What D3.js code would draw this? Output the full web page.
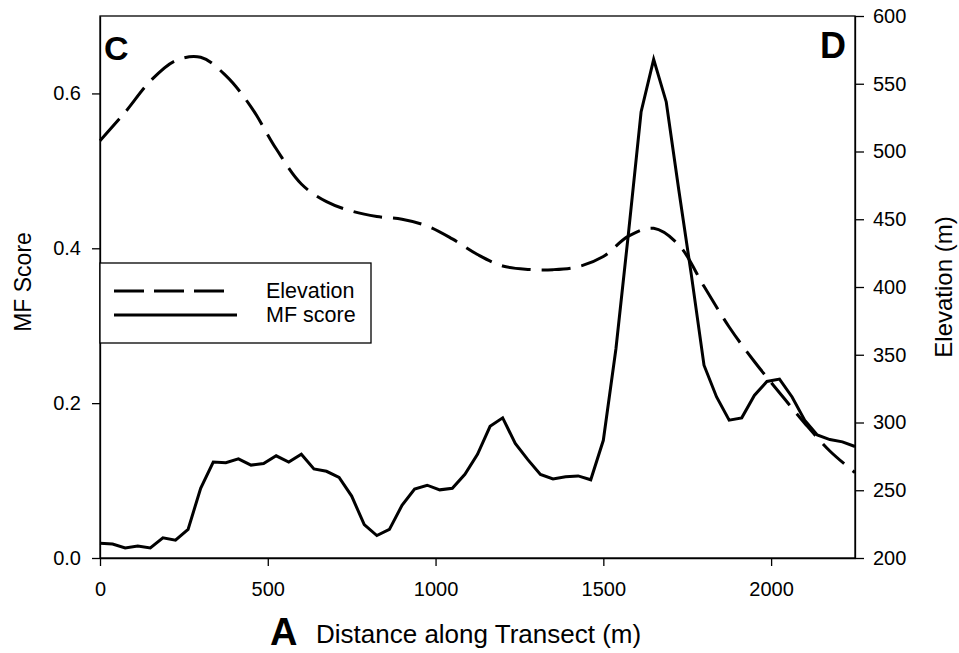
<!DOCTYPE html>
<html>
<head>
<meta charset="utf-8">
<script src="https://cdn.jsdelivr.net/npm/d3@7"></script>
<style>
  html, body { margin: 0; padding: 0; background: #fff; }
  svg { display: block; }
  text { font-family: "Liberation Sans", Arial, sans-serif; fill: #000; }
</style>
</head>
<body>
<svg id="chart" width="959" height="653"></svg>
<script>
// MF score sampled every 37.5 m along the transect
const mfDistance = d3.range(0, 61).map(i => i * 37.5);
const mfScore = [
  0.019, 0.018, 0.013, 0.0155, 0.013, 0.026, 0.023, 0.037, 0.090, 0.124,
  0.123, 0.128, 0.120, 0.122, 0.132, 0.124, 0.134, 0.115, 0.112, 0.104,
  0.080, 0.043, 0.029, 0.037, 0.068, 0.089, 0.094, 0.088, 0.090, 0.108,
  0.134, 0.170, 0.181, 0.148, 0.127, 0.108, 0.102, 0.105, 0.106, 0.101,
  0.152, 0.270, 0.420, 0.576, 0.644, 0.589, 0.475, 0.365, 0.249, 0.208,
  0.178, 0.181, 0.210, 0.228, 0.231, 0.208, 0.178, 0.159, 0.153, 0.150,
  0.144
];

// Elevation profile (m) sampled every 75 m
const elevDistance = d3.range(0, 31).map(i => i * 75);
const elevation = [
  508, 529, 552, 567, 569.5, 556, 533, 502, 476, 463,
  456, 452, 450, 445, 435.5, 424, 415.5, 413, 412.8, 415,
  422.5, 437.5, 443.3, 431, 400.5, 370.5, 345, 322, 299.5, 279,
  263
];

const xTicks = [0, 500, 1000, 1500, 2000];
const mfTicks = [0.0, 0.2, 0.4, 0.6];
const elevTicks = [200, 250, 300, 350, 400, 450, 500, 550, 600];
const legendLabels = ["Elevation", "MF score"];

const svg = d3.select("#chart");
const plotLeft = 100, plotRight = 855, plotTop = 16, plotBottom = 558;

const x = d3.scaleLinear().domain([0, 2250]).range([plotLeft, plotRight]);
const yL = d3.scaleLinear().domain([0, 0.7]).range([plotBottom, plotTop]);
const yR = d3.scaleLinear().domain([200, 600]).range([plotBottom, plotTop]);

// Frame
svg.append("rect")
  .attr("x", plotLeft).attr("y", plotTop)
  .attr("width", plotRight - plotLeft).attr("height", plotBottom - plotTop)
  .attr("fill", "none").attr("stroke", "#000").attr("stroke-width", 1.3);

function styleAxis(g) {
  g.selectAll("path.domain").attr("stroke", "#000").attr("stroke-width", 1.3);
  g.selectAll(".tick line").attr("stroke", "#000").attr("stroke-width", 1.3);
  g.selectAll(".tick text")
    .attr("font-size", 20)
    .attr("font-family", "Liberation Sans, Arial, sans-serif")
    .attr("fill", "#000");
}

svg.append("g")
  .attr("transform", `translate(0,${plotBottom})`)
  .call(d3.axisBottom(x).tickValues(xTicks).tickFormat(d3.format("d"))
    .tickSize(8).tickSizeOuter(0).tickPadding(16))
  .call(styleAxis);

svg.append("g")
  .attr("transform", `translate(${plotLeft},0)`)
  .call(d3.axisLeft(yL).tickValues(mfTicks).tickFormat(d3.format(".1f"))
    .tickSize(8).tickSizeOuter(0).tickPadding(11))
  .call(styleAxis);

svg.append("g")
  .attr("transform", `translate(${plotRight},0)`)
  .call(d3.axisRight(yR).tickValues(elevTicks).tickFormat(d3.format("d"))
    .tickSize(9).tickSizeOuter(0).tickPadding(9))
  .call(styleAxis);

// Elevation (dashed, right axis)
const elevLine = d3.line()
  .x((d, i) => x(elevDistance[i]))
  .y(d => yR(d))
  .curve(d3.curveCatmullRom.alpha(0.5));

svg.append("path")
  .datum(elevation)
  .attr("d", elevLine)
  .attr("fill", "none")
  .attr("stroke", "#000")
  .attr("stroke-width", 3)
  .attr("stroke-dasharray", "29,11");

// MF score (solid, left axis)
const mfLine = d3.line()
  .x((d, i) => x(mfDistance[i]))
  .y(d => yL(d));

svg.append("path")
  .datum(mfScore)
  .attr("d", mfLine)
  .attr("fill", "none")
  .attr("stroke", "#000")
  .attr("stroke-width", 3)
  .attr("stroke-linejoin", "miter");

// Legend
const legend = svg.append("g");
legend.append("rect")
  .attr("x", plotLeft).attr("y", 263)
  .attr("width", 271).attr("height", 80)
  .attr("fill", "#fff").attr("stroke", "#000").attr("stroke-width", 1.3);
legend.append("line")
  .attr("x1", 114).attr("x2", 224).attr("y1", 291).attr("y2", 291)
  .attr("stroke", "#000").attr("stroke-width", 3).attr("stroke-dasharray", "30,10");
legend.append("line")
  .attr("x1", 114).attr("x2", 237).attr("y1", 315).attr("y2", 315)
  .attr("stroke", "#000").attr("stroke-width", 3);
legend.selectAll("text.lg")
  .data(legendLabels)
  .join("text")
  .attr("class", "lg")
  .attr("x", 266)
  .attr("y", (d, i) => 298 + i * 24)
  .attr("font-size", 21.5)
  .text(d => d);

// Axis titles
svg.append("text")
  .attr("transform", `translate(31,282) rotate(-90)`)
  .attr("text-anchor", "middle")
  .attr("font-size", 23)
  .text("MF Score");

svg.append("text")
  .attr("transform", `translate(952,287) rotate(-90)`)
  .attr("text-anchor", "middle")
  .attr("font-size", 24)
  .text("Elevation (m)");

svg.append("text")
  .attr("x", 270).attr("y", 645)
  .attr("font-size", 38).attr("font-weight", "bold")
  .text("A");

svg.append("text")
  .attr("x", 316).attr("y", 643)
  .attr("font-size", 26)
  .text("Distance along Transect (m)");

// Panel letters
svg.append("text")
  .attr("x", 104).attr("y", 60)
  .attr("font-size", 34).attr("font-weight", "bold")
  .text("C");

svg.append("text")
  .attr("x", 846).attr("y", 58)
  .attr("text-anchor", "end")
  .attr("font-size", 36).attr("font-weight", "bold")
  .text("D");
</script>
</body>
</html>
